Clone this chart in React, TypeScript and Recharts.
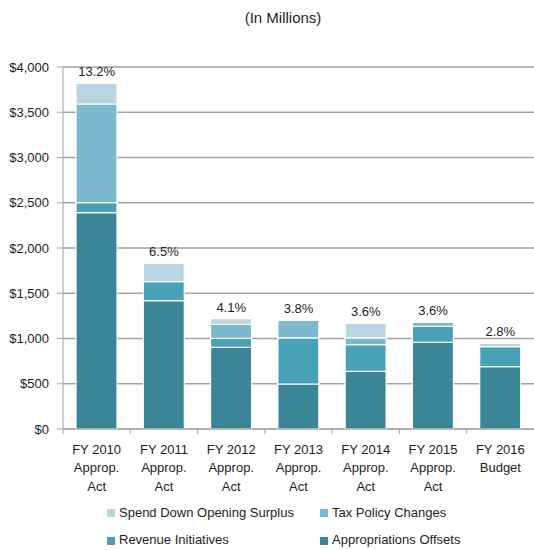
import React from "react";
import {
  ComposedChart,
  Bar,
  Line,
  XAxis,
  YAxis,
  CartesianGrid,
  LabelList,
  Legend,
} from "recharts";

// ---- data ----
const categoryLines: string[][] = [
  ["FY 2010", "Approp.", "Act"],
  ["FY 2011", "Approp.", "Act"],
  ["FY 2012", "Approp.", "Act"],
  ["FY 2013", "Approp.", "Act"],
  ["FY 2014", "Approp.", "Act"],
  ["FY 2015", "Approp.", "Act"],
  ["FY 2016", "Budget"],
];
const appropriationsOffsets = [2390, 1418, 903, 497, 637, 958, 688];
const revenueInitiatives = [111, 210, 99, 509, 295, 177, 222];
const taxPolicyChanges = [1090, 0, 155, 195, 74, 44, 0];
const spendDownOpeningSurplus = [229, 203, 62, 0, 162, 0, 37];
const percentLabels = ["13.2%", "6.5%", "4.1%", "3.8%", "3.6%", "3.6%", "2.8%"];
const yTicks = [0, 500, 1000, 1500, 2000, 2500, 3000, 3500, 4000];

// ---- layout / style ----
const W = 534;
const H = 550;
const Y_AXIS_W = 63;
const TOP = 67;
const X_AXIS_H = 70;
const LEGEND_H = 51;
const BAND = (W - Y_AXIS_W) / categoryLines.length;
const FONT = "'Liberation Sans', Arial, sans-serif";
const TEXT = "#1e1e1e";
const GRID = "#a3a3a3";
const C_AO = "#3a8597";
const C_RI = "#47a1b8";
const C_TPC = "#7db9ce";
const C_SDOS = "#b8d5e0";

const data = categoryLines.map((lines, i) => ({
  name: lines.join(" "),
  ao: appropriationsOffsets[i],
  ri: revenueInitiatives[i],
  tpc: taxPolicyChanges[i],
  sdos: spendDownOpeningSurplus[i],
  total:
    appropriationsOffsets[i] +
    revenueInitiatives[i] +
    taxPolicyChanges[i] +
    spendDownOpeningSurplus[i],
  pct: percentLabels[i],
}));

const legendItems = [
  { label: "Spend Down Opening Surplus", color: C_SDOS, col: 0, row: 0 },
  { label: "Tax Policy Changes", color: C_TPC, col: 1, row: 0 },
  { label: "Revenue Initiatives", color: C_RI, col: 0, row: 1 },
  { label: "Appropriations Offsets", color: C_AO, col: 1, row: 1 },
];

const XTick = (props: any) => {
  const { x, y, index } = props;
  const lines = categoryLines[index] || [];
  return (
    <g>
      <line x1={x - BAND / 2} x2={x - BAND / 2} y1={y} y2={y + 5} stroke={GRID} strokeWidth={1} />
      <text x={x} y={y} textAnchor="middle" fontSize={13} fill={TEXT} fontFamily={FONT}>
        {lines.map((l, k) => (
          <tspan key={k} x={x} y={y + 25 + k * 18.3}>
            {l}
          </tspan>
        ))}
      </text>
    </g>
  );
};

const renderLegend = () => (
  <div style={{ position: "relative", width: W, height: LEGEND_H, fontFamily: FONT, fontSize: 13, color: TEXT }}>
    {legendItems.map((it) => {
      const left = it.col === 0 ? 107 : 320;
      const swTop = it.row === 0 ? 10 : 38;
      const txtTop = it.row === 0 ? 6 : 33;
      return (
        <React.Fragment key={it.label}>
          <div style={{ position: "absolute", left, top: swTop, width: 8, height: 8, background: it.color }} />
          <div style={{ position: "absolute", left: left + 12, top: txtTop, lineHeight: "16px", whiteSpace: "nowrap" }}>
            {it.label}
          </div>
        </React.Fragment>
      );
    })}
  </div>
);

export default function App() {
  return (
    <div style={{ position: "absolute", left: 0, top: 0, width: W, height: H, background: "#fff", fontFamily: FONT }}>
      <div
        style={{
          position: "absolute",
          left: 0,
          width: W,
          top: 9,
          textAlign: "center",
          paddingLeft: 32,
          boxSizing: "border-box",
          fontSize: 15,
          color: TEXT,
          lineHeight: "18px",
        }}
      >
        (In Millions)
      </div>
      <ComposedChart
        width={W}
        height={H}
        data={data}
        margin={{ top: TOP, right: 0, bottom: 0, left: 0 }}
        barCategoryGap={0}
      >
        <CartesianGrid vertical={false} stroke={GRID} strokeWidth={1.3} />
        <XAxis
          dataKey="name"
          height={X_AXIS_H}
          interval={0}
          tickLine={false}
          tickSize={0}
          tickMargin={0}
          axisLine={{ stroke: GRID }}
          tick={<XTick />}
        />
        <YAxis
          width={Y_AXIS_W}
          domain={[0, 4000]}
          ticks={yTicks}
          tickSize={6}
          tickMargin={8}
          axisLine={{ stroke: GRID }}
          tickLine={{ stroke: GRID }}
          tick={{ fontSize: 13, fill: TEXT, fontFamily: FONT }}
          tickFormatter={(v: number) => "$" + v.toLocaleString("en-US")}
        />
        <Legend verticalAlign="bottom" content={renderLegend} wrapperStyle={{ height: LEGEND_H }} />
        <Bar dataKey="ao" name="Appropriations Offsets" stackId="s" fill={C_AO} stroke="#fff" strokeWidth={1.2} barSize={41} isAnimationActive={false} />
        <Bar dataKey="ri" name="Revenue Initiatives" stackId="s" fill={C_RI} stroke="#fff" strokeWidth={1.2} barSize={41} isAnimationActive={false} />
        <Bar dataKey="tpc" name="Tax Policy Changes" stackId="s" fill={C_TPC} stroke="#fff" strokeWidth={1.2} barSize={41} isAnimationActive={false} />
        <Bar dataKey="sdos" name="Spend Down Opening Surplus" stackId="s" fill={C_SDOS} stroke="#fff" strokeWidth={1.2} barSize={41} isAnimationActive={false} />
        <Line
          dataKey="total"
          stroke="none"
          dot={false}
          activeDot={false}
          legendType="none"
          isAnimationActive={false}
        >
          <LabelList dataKey="pct" position="top" offset={7} fontSize={13} fill={TEXT} fontFamily={FONT} />
        </Line>
      </ComposedChart>
    </div>
  );
}
